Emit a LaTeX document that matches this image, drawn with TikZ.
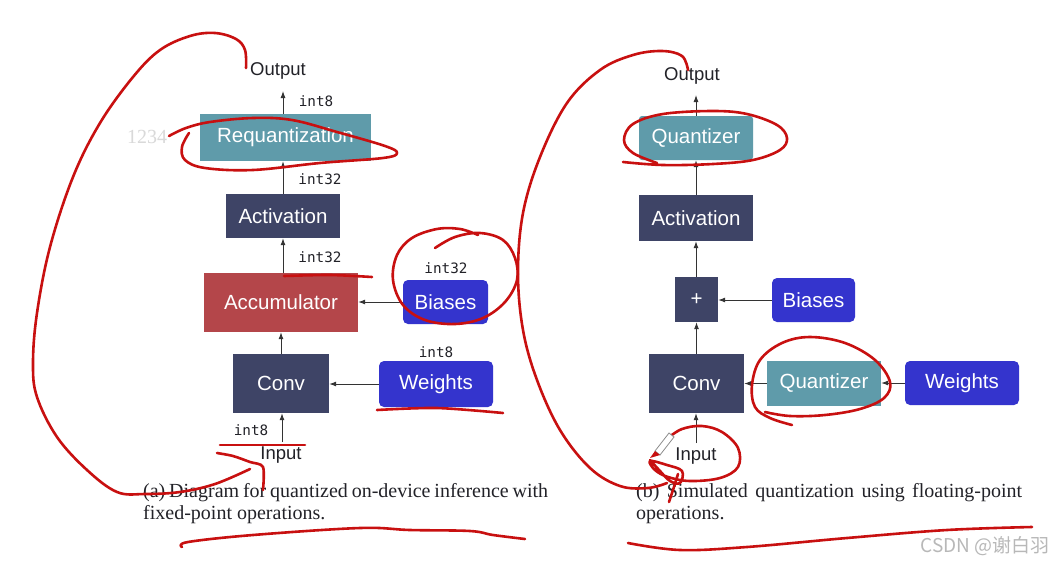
\documentclass[tikz,border=0pt]{standalone}
\usepackage{fontspec}
\setmainfont{Liberation Serif}
\newfontfamily\helv{Liberation Sans}
\newfontfamily\monof{DejaVu Sans Mono}
\newfontfamily\cjkf{Noto Sans CJK SC}
\usetikzlibrary{arrows.meta}
\definecolor{tealq}{RGB}{95,155,170}
\definecolor{navyb}{RGB}{62,68,102}
\definecolor{accred}{RGB}{180,70,74}
\definecolor{royal}{RGB}{52,52,205}
\definecolor{penred}{RGB}{200,16,16}
\definecolor{txtdark}{RGB}{34,34,40}
\begin{document}
\begin{tikzpicture}[x=1pt,y=-1pt,
  box/.style={inner sep=0pt, text=white, font=\helv\fontsize{20.5}{24}\selectfont},
  navybox/.style={box, fill=navyb},
  tealbox/.style={box, fill=tealq},
  redbox/.style={box, fill=accred},
  bluebox/.style={box, fill=royal, rounded corners=5pt},
  io/.style={inner sep=0pt, text=txtdark, font=\helv\fontsize{18.5}{22}\selectfont},
  dtype/.style={inner sep=0pt, text=txtdark, font=\monof\fontsize{14.3}{17}\selectfont},
  conn/.style={draw=black!80, line width=0.9pt, -{Latex[length=7pt,width=5pt]}},
  captext/.style={inner sep=0pt, anchor=base west, text=txtdark, font=\fontsize{20}{22}\selectfont},
  pen/.style={draw=penred, line width=2.6pt, line cap=round, line join=round}
]
\useasboundingbox (0,0) rectangle (1057,563);
\fill[white] (0,0) rectangle (1057,563);

% ---------- left diagram ----------
\node[io] (outA) at (278,71) {Output};
\node[tealbox, minimum width=171pt, minimum height=47pt] (req) at (285.5,137.5) {Requantization};
\node[navybox, minimum width=114pt, minimum height=44pt] (actA) at (283,216) {Activation};
\node[redbox, minimum width=154pt, minimum height=59pt] (acc) at (281,302.5) {Accumulator};
\node[bluebox, minimum width=85pt, minimum height=44pt] (biaA) at (445.5,302) {Biases};
\node[navybox, minimum width=96pt, minimum height=59pt] (convA) at (281,383.5) {Conv};
\node[bluebox, minimum width=114pt, minimum height=46pt] (weiA) at (436,384) {Weights};
\node[io] (inA) at (281,455) {Input};

\node[dtype] (t1) at (316,101) {int8};
\node[dtype] (t2) at (320,179) {int32};
\node[dtype] (t3) at (320,257) {int32};
\node[dtype] (t4) at (446,268) {int32};
\node[dtype] (t5) at (436,352) {int8};
\node[dtype] (t6) at (251,430) {int8};

\coordinate (oA) at (283,91);
\coordinate (iA) at (282,442);
\draw[conn] (req.north -| oA) -- (oA);
\draw[conn] (actA.north) -- (actA.north |- req.south);
\draw[conn] (acc.north -| actA.north) -- (actA.south);
\draw[conn] (convA.north) -- (acc.south);
\draw[conn] (iA) -- (iA |- convA.south);
\draw[conn] (biaA.west) -- (biaA.west -| acc.east);
\draw[conn] (weiA.west) -- (weiA.west -| convA.east);

\node[inner sep=0pt, anchor=base west, text=black!15, font=\fontsize{20}{24}\selectfont] (wm1) at (127,143) {1234};

\node[captext] (capa1) at (143,497) {\hbox to 405pt{(a) Diagram for quantized on-device inference with}};
\node[captext] (capa2) at (143,519) {fixed-point operations.};

% ---------- right diagram ----------
\node[io] (outB) at (692,76) {Output};
\node[tealbox, rounded corners=3pt, minimum width=114pt, minimum height=44pt] (qt) at (696,138) {Quantizer};
\node[navybox, minimum width=114pt, minimum height=46pt] (actB) at (696,218) {Activation};
\node[navybox, minimum width=43pt, minimum height=45pt] (plus) at (696.5,299.5) {+};
\node[bluebox, minimum width=83pt, minimum height=44pt] (biaB) at (813.5,300) {Biases};
\node[navybox, minimum width=95pt, minimum height=59pt] (convB) at (696.5,383.5) {Conv};
\node[tealbox, minimum width=114pt, minimum height=45pt] (qw) at (824,383.5) {Quantizer};
\node[bluebox, minimum width=114pt, minimum height=44pt] (weiB) at (962,383) {Weights};
\node[io] (inB) at (696,456) {Input};

\coordinate (oB) at (696,95);
\coordinate (iB) at (696,443);
\draw[conn] (qt.north) -- (oB);
\draw[conn] (actB.north) -- (qt.south);
\draw[conn] (plus.north -| actB.north) -- (actB.south);
\draw[conn] (convB.north -| plus.north) -- (plus.south);
\draw[conn] (iB) -- (iB |- convB.south);
\draw[conn] (biaB.west) -- (biaB.west -| plus.east);
\draw[conn] (qw.west) -- (qw.west -| convB.east);
\draw[conn] (weiB.west) -- (weiB.west -| qw.east);

\node[captext] (capb1) at (636,497) {\hbox to 386pt{(b) Simulated quantization using floating-point}};
\node[captext] (capb2) at (636,519) {operations.};

\node[inner sep=0pt, text=black!28, font=\cjkf\fontsize{19}{22}\selectfont] (csdn) at (985,546) {CSDN @谢白羽};

% ---------- red annotations ----------
\draw[pen] plot[smooth, tension=0.6] coordinates {(246,68) (245,50) (236,39) (215,33) (190,36) (160,50) (133,77) (100,123) (73,177) (50,247) (37,313) (33,363) (37,397) (57,437) (87,470) (117,492) (145,494) (180,492) (215,484) (250,469)};
\draw[pen] plot[smooth, tension=0.6] coordinates {(169,136) (186,128) (210,122) (253,118) (292,120) (337,132) (385,146) (397,153) (383,158) (320,163) (253,170) (205,168) (185,160) (182,147) (189,133)};
\draw[pen] plot[smooth] coordinates {(284,276) (330,275) (372,277)};
\draw[pen] plot[smooth, tension=0.6] coordinates {(435,248) (455,237) (480,233) (503,240) (515,258) (517,280) (505,302) (483,318) (455,324) (425,320) (403,305) (393,280) (397,255) (412,238) (437,229) (460,229) (478,235)};
\draw[pen] plot[smooth] coordinates {(377,410) (437,408) (503,413)};
\draw[pen] (220,445) -- (305,445);
\draw[pen] plot[smooth, tension=0.5] coordinates {(217,453) (233,456) (250,462) (263,467) (263,490)};
\draw[pen] plot[smooth, tension=0.6] coordinates {(182,547) (188,542) (253,535) (360,528) (410,530) (470,531) (493,535) (525,539)};

\draw[pen] plot[smooth, tension=0.6] coordinates {(688,70) (682,56) (662,51) (633,55) (600,70) (567,103) (540,157) (523,213) (518,273) (523,330) (537,380) (560,430) (590,468) (620,486) (648,488) (667,483)};
\draw[pen] plot[smooth, tension=0.6] coordinates {(623,162) (663,165) (713,164) (753,160) (780,150) (787,138) (777,125) (747,114) (713,111) (663,114) (633,124) (624,140) (633,153) (657,163)};
\draw[pen] plot[smooth, tension=0.6] coordinates {(792,425) (770,418) (755,407) (752,385) (760,360) (782,343) (810,337) (845,343) (875,360) (890,382) (884,398) (860,409) (825,415) (790,416) (765,412)};
\draw[pen] plot[smooth, tension=0.6] coordinates {(668,438) (682,429) (702,426) (722,432) (738,448) (738,467) (720,478) (690,481) (668,477) (655,470) (650,461) (667,465) (682,471) (680,483) (670,481) (660,471) (650,460)};
\draw[pen] plot[smooth] coordinates {(678,474) (673,490) (669,502)};
\draw[pen] plot[smooth, tension=0.6] coordinates {(628,543) (680,550) (747,547) (847,538) (947,530) (1032,527)};

% pen cursor
\draw[black!45, line width=0.8pt, fill=white] (655,451) -- (669,433) -- (674,437) -- (660,455) -- cycle;
\fill[penred] (650,458) -- (655,451) -- (660,455) -- cycle;
\end{tikzpicture}
\end{document}
